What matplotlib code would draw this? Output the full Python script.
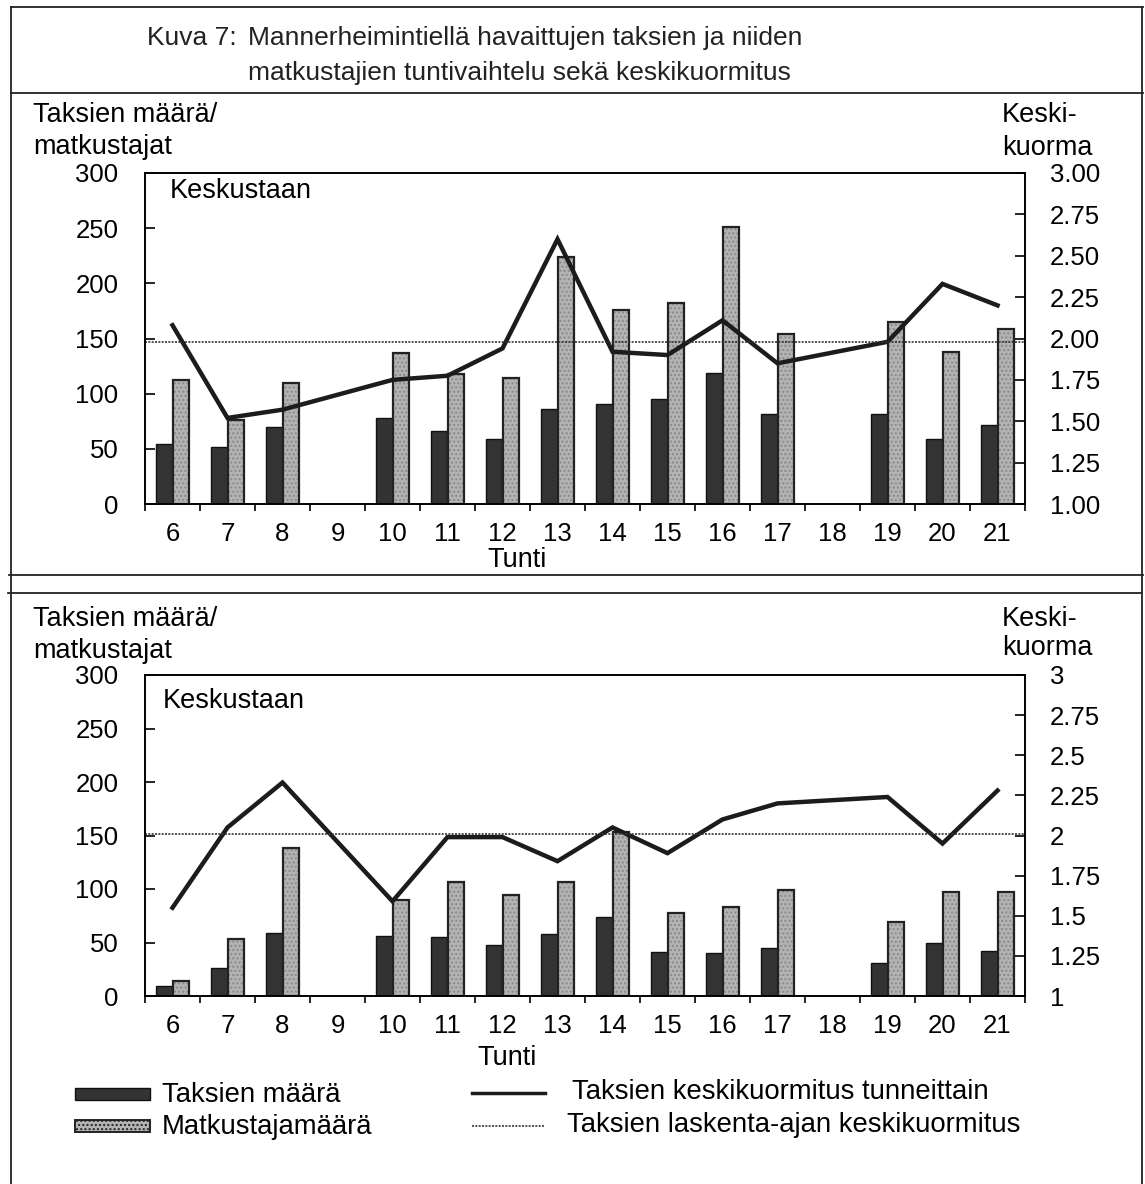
import numpy as np
import matplotlib
matplotlib.use("Agg")
import matplotlib.pyplot as plt
from matplotlib.lines import Line2D
from matplotlib.patches import Rectangle
from matplotlib.ticker import FuncFormatter

plt.rcParams["font.family"] = ["Liberation Sans", "DejaVu Sans"]

# hours on the x axis
hours = [6, 7, 8, 9, 10, 11, 12, 13, 14, 15, 16, 17, 18, 19, 20, 21]
nan = np.nan

# upper panel
taxis_top = [54, 52, 70, nan, 78, 66, 59, 86, 91, 95, 119, 82, nan, 82, 59, 72]
pass_top = [112, 76, 110, nan, 137, 118, 114, 224, 176, 182, 251, 154, nan, 165, 138, 159]
load_top = [2.08, 1.52, 1.57, nan, 1.75, 1.775, 1.94, 2.60, 1.92, 1.90, 2.11, 1.85, nan, 1.98, 2.33, 2.20]
avg_top = 1.98

# lower panel
taxis_bot = [9, 26, 59, nan, 56, 55, 48, 58, 74, 41, 40, 45, nan, 31, 50, 42]
pass_bot = [14, 53, 138, nan, 90, 107, 94, 107, 153, 78, 83, 99, nan, 69, 97, 97]
load_bot = [1.55, 2.05, 2.33, nan, 1.59, 1.99, 1.99, 1.84, 2.05, 1.89, 2.10, 2.20, nan, 2.24, 1.95, 2.28]
avg_bot = 2.01

W, H = 1145, 1184
fig = plt.figure(figsize=(W / 100, H / 100), dpi=100)


def fx(x):
    return x / W


def fy(y):
    return 1 - y / H


def hline(y, x0, x1, lw=1.3):
    fig.add_artist(Line2D([fx(x0), fx(x1)], [fy(y), fy(y)], color="#222", lw=lw))


def vline(x, y0, y1, lw=1.3):
    fig.add_artist(Line2D([fx(x), fx(x)], [fy(y0), fy(y1)], color="#222", lw=lw))


# frame of the figure
hline(7, 11, 1143)
hline(93, 11, 1143)
hline(575, 9, 1143)
hline(593, 8, 1141)
vline(11, 7, 1184)
vline(1142, 7, 1184)

TICK = 18.5
LAB = 19.5
LEG = 19.8

fig.text(fx(147), fy(45), "Kuva 7:", fontsize=19, va="baseline", color="#222")
fig.text(fx(248), fy(45), "Mannerheimintiellä havaittujen taksien ja niiden",
         fontsize=19, va="baseline", color="#222")
fig.text(fx(248), fy(80), "matkustajien tuntivaihtelu sekä keskikuormitus",
         fontsize=19, va="baseline", color="#222")


def panel(top, bottom, taxis, pas, load, avg, rfmt, lab_y, kuorma_y, kx, ky,
          tunti_x, tunti_y):
    ax = fig.add_axes([fx(145), fy(bottom), fx(1025 - 145), (bottom - top) / H])
    x = np.arange(len(hours))
    w = 0.3
    ax.bar(x - w / 2, taxis, w, color="#333", edgecolor="#111", lw=1.0)
    ax.bar(x + w / 2, pas, w, color="#b3b3b3", edgecolor="#8a8a8a", hatch="....", lw=0)
    ax.bar(x + w / 2, pas, w, fill=False, edgecolor="#222", lw=1.6)
    ax.set_xlim(-0.5, len(hours) - 0.5)
    ax.set_ylim(0, 300)
    ax.set_yticks(range(0, 301, 50))
    ax.set_xticks(x)
    ax.set_xticklabels([str(h) for h in hours])
    ax.set_xticks(np.arange(-0.5, len(hours)), minor=True)
    ax.tick_params(axis="x", which="major", length=0, pad=13, labelsize=TICK)
    ax.tick_params(axis="x", which="minor", direction="out", length=5, width=1.2)
    ax.tick_params(axis="y", direction="in", length=7, width=1.2, pad=19, labelsize=TICK)
    for t in ax.get_yticklabels():
        t.set_verticalalignment("center_baseline")
    for s in ax.spines.values():
        s.set_linewidth(1.2)
    ax.text(kx, ky, "Keskustaan", transform=ax.transAxes, fontsize=LAB,
            va="baseline", ha="left")

    ax2 = ax.twinx()
    ax2.set_ylim(1, 3)
    ax2.set_yticks(np.arange(1, 3.01, 0.25))
    ax2.yaxis.set_major_formatter(FuncFormatter(rfmt))
    ax2.tick_params(axis="y", direction="in", length=7, width=1.2, pad=18, labelsize=TICK)
    for t in ax2.get_yticklabels():
        t.set_verticalalignment("center_baseline")
    for s in ax2.spines.values():
        s.set_linewidth(1.2)
    ok = ~np.isnan(np.array(load))
    ax2.plot(x[ok], np.array(load)[ok], color="#1c1c1c", lw=3.2, solid_joinstyle="miter")
    ax2.axhline(avg, color="#333", lw=1.2, ls=(0, (1.2, 0.8)))

    fig.text(fx(33), fy(lab_y), "Taksien määrä/", fontsize=LAB, va="baseline")
    fig.text(fx(33), fy(lab_y + 32), "matkustajat", fontsize=LAB, va="baseline")
    fig.text(fx(1002), fy(lab_y), "Keski-", fontsize=LAB, va="baseline")
    fig.text(fx(1002), fy(kuorma_y), "kuorma", fontsize=LAB, va="baseline")
    fig.text(fx(tunti_x), fy(tunti_y), "Tunti", fontsize=LAB, ha="center", va="center")
    return ax


panel(173, 504, taxis_top, pass_top, load_top, avg_top,
      lambda v, p: f"{v:.2f}", 122, 155, 0.028, 0.924, 517, 560)
panel(675, 996, taxis_bot, pass_bot, load_bot, avg_bot,
      lambda v, p: f"{v:g}", 626, 655, 0.02, 0.897, 507, 1058)

# legend
fig.add_artist(Rectangle((fx(75), fy(1100)), fx(75), 12 / H, facecolor="#333",
                         edgecolor="#111", lw=1.0))
fig.add_artist(Rectangle((fx(75), fy(1132)), fx(75), 12 / H, facecolor="#b3b3b3",
                         edgecolor="#222", lw=1.4, hatch="...."))
fig.text(fx(162), fy(1095), "Taksien määrä", fontsize=LEG, va="center")
fig.text(fx(162), fy(1127), "Matkustajamäärä", fontsize=LEG, va="center")
fig.add_artist(Line2D([fx(472), fx(545)], [fy(1093), fy(1093)], color="#1c1c1c", lw=2.5))
fig.add_artist(Line2D([fx(472), fx(545)], [fy(1126), fy(1126)], color="#333", lw=1.2,
                      ls=(0, (1.2, 0.8))))
fig.text(fx(572), fy(1092), "Taksien keskikuormitus tunneittain", fontsize=LEG, va="center")
fig.text(fx(567), fy(1125), "Taksien laskenta-ajan keskikuormitus", fontsize=LEG, va="center")

fig.savefig("out.png", dpi=100, facecolor="white")
